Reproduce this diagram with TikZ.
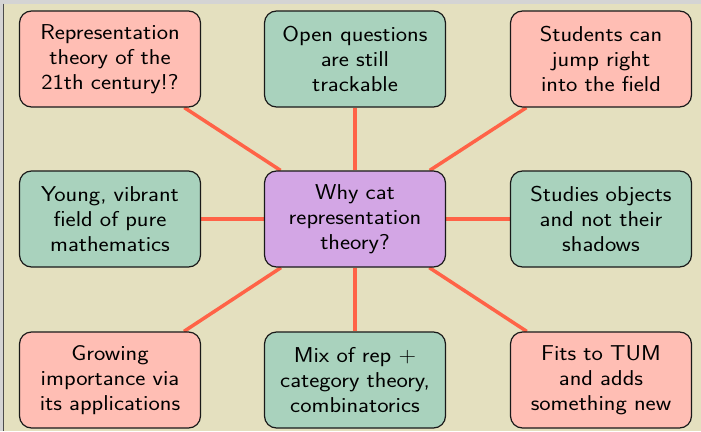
\documentclass[tikz,border=0pt]{standalone}
\usepackage{fontspec}
\setmainfont{Latin Modern Sans}[FakeStretch=1.12]
\usetikzlibrary{backgrounds}
\definecolor{bgc}{HTML}{E4E0BF}
\definecolor{pinkc}{HTML}{FFBEB4}
\definecolor{greenc}{HTML}{A9D2BD}
\definecolor{purplec}{HTML}{D3A6E5}
\definecolor{linec}{HTML}{FF6347}
\definecolor{framegray}{HTML}{D4D4D4}
\tikzset{
  box/.style={draw=black!90, line width=1.2pt, rounded corners=12pt, minimum width=181pt, minimum height=96pt, text width=178pt, align=center, inner sep=1pt, font=\fontsize{21.5}{25}\selectfont},
  pinkbox/.style={box, fill=pinkc},
  greenbox/.style={box, fill=greenc},
  purplebox/.style={box, fill=purplec},
  conn/.style={draw=linec, line width=3.5pt}
}
\begin{document}
\begin{tikzpicture}[x=1pt,y=-1pt]
\useasboundingbox (0,0) rectangle (701,431);
\node[pinkbox] (tl) at (110,59) {Representation\\theory of the\\21th century!?};
\node[greenbox] (tc) at (355,59) {Open questions\\are still\\trackable};
\node[pinkbox] (tr) at (601,59) {Students can\\jump right\\into the field};
\node[greenbox] (ml) at (110,219) {Young, vibrant\\field of pure\\mathematics};
\node[purplebox] (c) at (355,219) {Why cat\\representation\\theory?};
\node[greenbox] (mr) at (601,219) {Studies objects\\and not their\\shadows};
\node[pinkbox] (bl) at (110,380) {Growing\\importance via\\its applications};
\node[greenbox] (bc) at (355,380) {Mix of rep +\\category theory,\\combinatorics};
\node[pinkbox] (br) at (601,380) {Fits to TUM\\and adds\\something new};
\begin{scope}[on background layer]
\fill[bgc] (0,0) rectangle (701,431);
\fill[framegray] (0,0) rectangle (701,3.5);
\fill[framegray] (0,0) rectangle (3,431);
\draw[black!70, line width=1pt] (3.5,3.5) -- (3.5,431);
\foreach \n in {tl,tc,tr,ml,mr,bl,bc,br} {
  \draw[conn] (c) -- (\n);
}
\end{scope}
\end{tikzpicture}
\end{document}
